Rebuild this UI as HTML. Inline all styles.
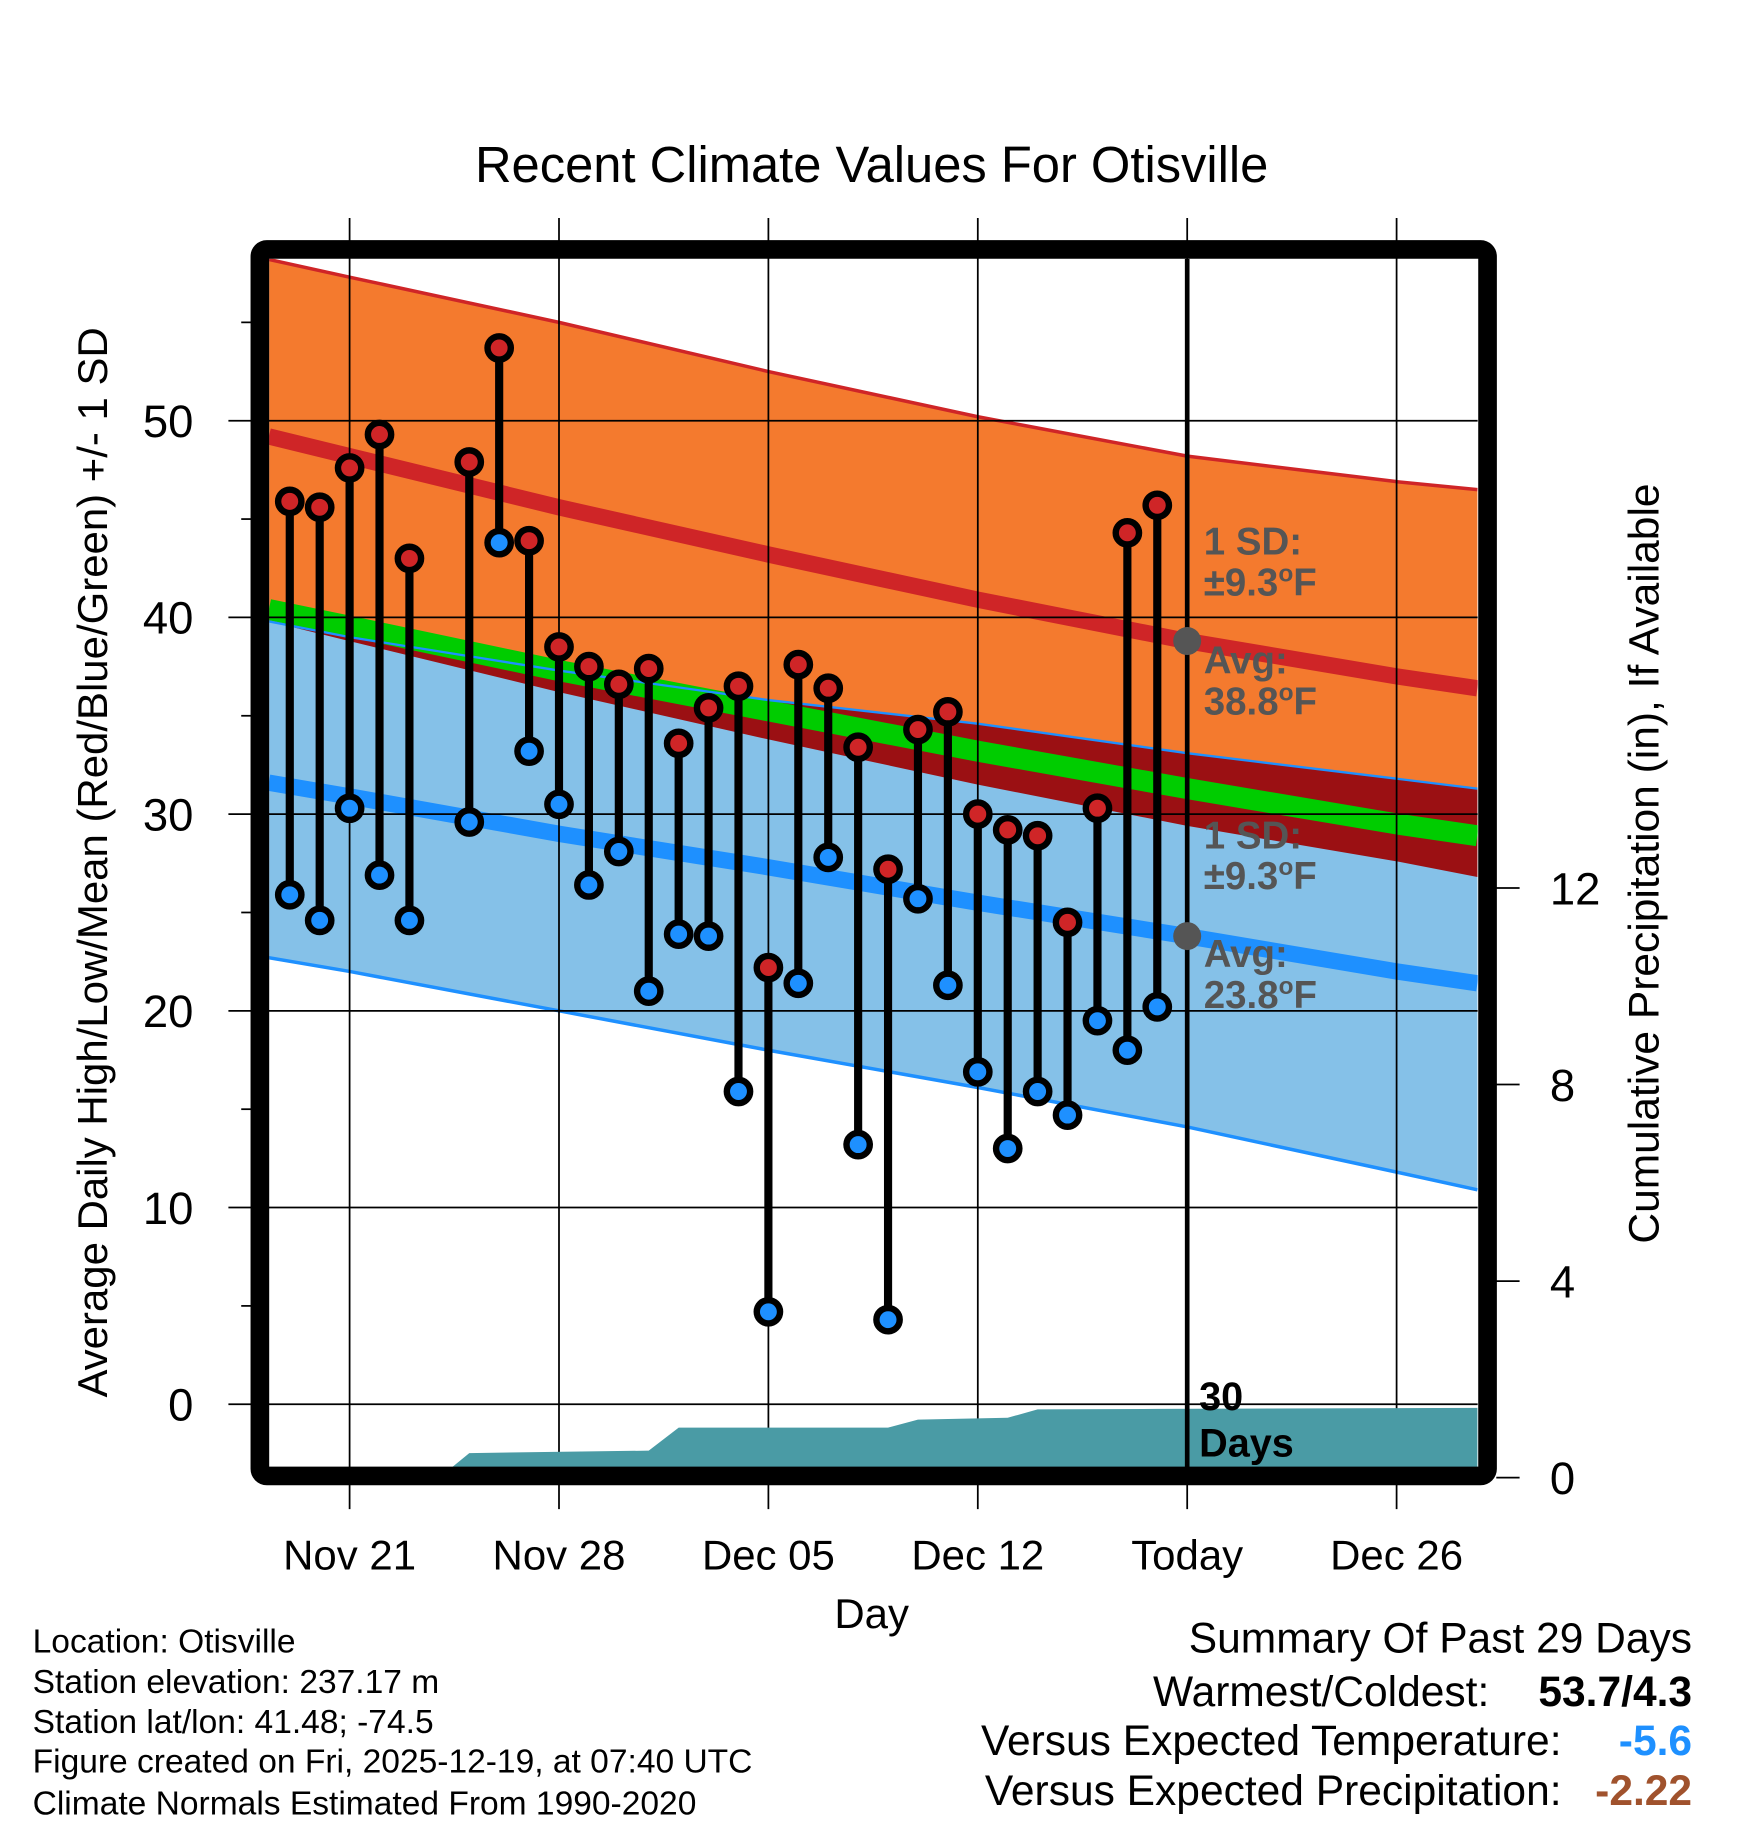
<!DOCTYPE html>
<html><head><meta charset="utf-8"><style>
html,body{margin:0;padding:0;background:#fff;}
svg{display:block;font-family:"Liberation Sans",Arial,sans-serif;}
</style></head><body>
<svg id="chart" width="1748" height="1828" viewBox="0 0 1500 1568.6" xmlns="http://www.w3.org/2000/svg">
<text x="748" y="156" font-size="43.5" text-anchor="middle">Recent Climate Values For Otisville</text>
<g id="bands"></g><g id="grid"></g><g id="precip"></g><g id="series"></g><g id="points"></g>
<rect x="223" y="214" width="1053.5" height="1052.5" rx="6" fill="none" stroke="#000" stroke-width="16"/>
<g id="axes"></g>
<g font-size="33" font-weight="bold" fill="#555">
<text x="1033" y="476">1 SD:</text><text x="1033" y="511">±9.3<tspan font-size="21" dy="-12">o</tspan><tspan dy="12">F</tspan></text>
<text x="1033" y="578">Avg:</text><text x="1033" y="613">38.8<tspan font-size="21" dy="-12">o</tspan><tspan dy="12">F</tspan></text>
<text x="1033" y="728">1 SD:</text><text x="1033" y="763">±9.3<tspan font-size="21" dy="-12">o</tspan><tspan dy="12">F</tspan></text>
<text x="1033" y="830">Avg:</text><text x="1033" y="865">23.8<tspan font-size="21" dy="-12">o</tspan><tspan dy="12">F</tspan></text>
</g>
<text x="1029" y="1210" font-size="34" font-weight="bold">30</text>
<text x="1029" y="1250" font-size="34" font-weight="bold">Days</text>
<text transform="translate(92,740) rotate(-90)" font-size="36" text-anchor="middle">Average Daily High/Low/Mean (Red/Blue/Green) +/- 1 SD</text>
<text transform="translate(1423,741) rotate(-90)" font-size="36.5" text-anchor="middle">Cumulative Precipitation (in), If Available</text>
<text x="748" y="1397" font-size="36" text-anchor="middle">Day</text>
<g font-size="28.8">
<text x="28" y="1418">Location: Otisville</text>
<text x="28" y="1453">Station elevation: 237.17 m</text>
<text x="28" y="1487">Station lat/lon: 41.48; -74.5</text>
<text x="28" y="1521">Figure created on Fri, 2025-12-19, at 07:40 UTC</text>
<text x="28" y="1557">Climate Normals Estimated From 1990-2020</text>
</g>
<g font-size="36.5">
<text x="1452" y="1418" text-anchor="end">Summary Of Past 29 Days</text>
<text x="1278" y="1464" text-anchor="end">Warmest/Coldest:</text>
<text x="1452" y="1464" text-anchor="end" font-weight="bold">53.7/4.3</text>
<text x="1340" y="1506" text-anchor="end">Versus Expected Temperature:</text>
<text x="1452" y="1506" text-anchor="end" font-weight="bold" fill="#1e90ff">-5.6</text>
<text x="1340" y="1549" text-anchor="end">Versus Expected Precipitation:</text>
<text x="1452" y="1549" text-anchor="end" font-weight="bold" fill="#a0522d">-2.22</text>
</g>
</svg>
<script>
// normals (day index, 0 = Nov 21)
const normDays = [-2.7, 0, 7, 14, 21, 28, 35, 37.7];
const highUpper = [58.2, 57.3, 55.0, 52.5, 50.2, 48.2, 46.9, 46.5];
const highAvg = [49.2, 48.2, 45.6, 43.2, 40.9, 38.8, 37.0, 36.4];
const highLower = [39.8, 38.8, 36.2, 33.8, 31.5, 29.4, 27.6, 26.8];
const lowUpper = [39.8, 39.0, 37.3, 35.8, 34.6, 33.1, 31.8, 31.3];
const lowAvg = [31.6, 30.9, 29.0, 27.3, 25.5, 23.8, 22.0, 21.4];
const lowLower = [22.7, 22.0, 20.0, 18.0, 16.1, 14.1, 11.8, 10.9];
// observations
const obsDays = [-2,-1,0,1,2,4,5,6,7,8,9,10,11,12,13,14,15,16,17,18,19,20,21,22,23,24,25,26,27];
const highs = [45.9,45.6,47.6,49.3,43.0,47.9,53.7,43.9,38.5,37.5,36.6,37.4,33.6,35.4,36.5,22.2,37.6,36.4,33.4,27.2,34.3,35.2,30.0,29.2,28.9,24.5,30.3,44.3,45.7];
const lows = [25.9,24.6,30.3,26.9,24.6,29.6,43.8,33.2,30.5,26.4,28.1,21.0,23.9,23.8,15.9,4.7,21.4,27.8,13.2,4.3,25.7,21.3,16.9,13.0,15.9,14.7,19.5,18.0,20.2];
const precipDays = [-2.7,3,4,10,11,18,19,22,23,27,37.7];
const precip = [0,0,0.5,0.55,1.02,1.02,1.18,1.22,1.39,1.40,1.42];
const xTickDays = [0,7,14,21,28,35];
const xTickLabels = ["Nov 21","Nov 28","Dec 05","Dec 12","Today","Dec 26"];
const yTicks = [0,10,20,30,40,50];
const yMinor = [5,15,25,35,45,55];
const pTicks = [0,4,8,12];
const todayDay = 28;
const todayHighAvg = 38.8, todayLowAvg = 23.8;

const NS = "http://www.w3.org/2000/svg";
const X = d => 300 + d * 25.67;
const Y = v => 1205 - v * 16.88;
const P = p => 1268 - p * 42.17;
const L = 231, R = 1268, T = 222, B = 1259;
function mk(tag, parent, attrs){const e=document.createElementNS(NS,tag);for(const k in attrs)e.setAttribute(k,attrs[k]);document.getElementById(parent).appendChild(e);return e;}
const line = (xs, ys) => xs.map((d,i)=>X(d).toFixed(1)+","+Y(ys[i]).toFixed(1)).join(" ");
const band = (xs, a, b) => line(xs,a) + " " + line(xs.slice().reverse(), b.slice().reverse());

const defs = mk("defs","bands",{});
const cp = document.createElementNS(NS,"clipPath"); cp.setAttribute("id","clip"); defs.appendChild(cp);
const cr = document.createElementNS(NS,"rect"); cr.setAttribute("x",L);cr.setAttribute("y",T);cr.setAttribute("width",R-L);cr.setAttribute("height",B-T); cp.appendChild(cr);
["bands","series","precip"].forEach(id=>document.getElementById(id).setAttribute("clip-path","url(#clip)"));

let e;
e = mk("polygon","bands",{points:band(normDays,highUpper,highLower),fill:"#f47a2e"});


e = mk("polygon","bands",{points:band(normDays,lowUpper,lowLower),fill:"#85c1e8"});


const ovTop = lowUpper, ovBot = highLower.map((v,i)=>Math.min(v,lowUpper[i]));
e = mk("polygon","bands",{points:band(normDays,ovTop,ovBot),fill:"#9b1013"});


const meanV = highAvg.map((v,i)=>(v+lowAvg[i])/2);
e = mk("polyline","bands",{points:line(normDays,meanV),fill:"none",stroke:"#00cc00","stroke-width":18});


[[highUpper,"#cf2527",3,"high-upper-sd-line"],[highAvg,"#cf2527",14,"high-avg-line"],[lowUpper,"#1e90ff",2,"low-upper-sd-line"],[lowAvg,"#1e90ff",14,"low-avg-line"],[lowLower,"#1e90ff",3,"low-lower-sd-line"]].forEach(s=>{
  const el = mk("polyline","bands",{points:line(normDays,s[0]),fill:"none",stroke:s[1],"stroke-width":s[2]});
  
  
});

xTickDays.forEach((d,i)=>{
  const g = mk("line","grid",{x1:X(d),x2:X(d),y1:187,y2:1295,stroke:"#000","stroke-width":1.5});
  
  
  const t = mk("text","axes",{x:X(d),y:1347,"font-size":36,"text-anchor":"middle"});
  t.textContent = xTickLabels[i];
  
  
});
yTicks.forEach(v=>{
  const g = mk("line","grid",{x1:196,x2:R,y1:Y(v),y2:Y(v),stroke:"#000","stroke-width":1.5});
  
  
  const t = mk("text","axes",{x:166,y:Y(v)+14,"font-size":39,"text-anchor":"end"});
  t.textContent = v;
  
  
});
yMinor.forEach(v=>{
  const g = mk("line","axes",{x1:207,x2:216,y1:Y(v),y2:Y(v),stroke:"#000","stroke-width":1.5});
  
  
});
pTicks.forEach(p=>{
  const g = mk("line","axes",{x1:1284,x2:1304,y1:P(p),y2:P(p),stroke:"#000","stroke-width":1.5});
  
  
  const t = mk("text","axes",{x:1330,y:P(p)+14,"font-size":39});
  t.textContent = p;
  
  
});

const pp = precipDays.map((d,i)=>X(d).toFixed(1)+","+P(precip[i]).toFixed(1)).join(" ");
e = mk("polygon","precip",{points:X(precipDays[0])+","+(B+20)+" "+pp+" "+X(precipDays[precipDays.length-1])+","+(B+20),fill:"#4a9ba5"});



e = mk("line","series",{x1:X(todayDay),x2:X(todayDay),y1:T,y2:B,stroke:"#000","stroke-width":4});


e = mk("circle","series",{cx:X(todayDay),cy:Y(todayHighAvg),r:12,fill:"#555"});


e = mk("circle","series",{cx:X(todayDay),cy:Y(todayLowAvg),r:12,fill:"#555"});



obsDays.forEach((d,i)=>{
  const s = mk("line","points",{x1:X(d),x2:X(d),y1:Y(highs[i]),y2:Y(lows[i]),stroke:"#000","stroke-width":7});
  
  
});
obsDays.forEach((d,i)=>{
  const h = mk("circle","points",{cx:X(d),cy:Y(highs[i]),r:10,fill:"#cf2527",stroke:"#000","stroke-width":5.5});
  
  
  const l = mk("circle","points",{cx:X(d),cy:Y(lows[i]),r:10,fill:"#1e90ff",stroke:"#000","stroke-width":5.5});
  
  
});
</script>
</body></html>
